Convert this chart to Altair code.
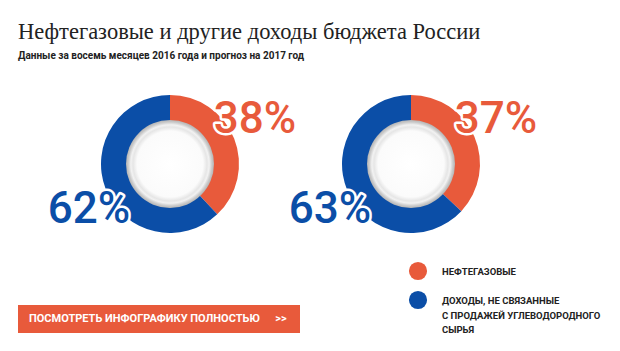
import math
import altair as alt
import pandas as pd

# ---- data ----
years = ["2016", "2017"]
categories = ["Нефтегазовые", "Доходы, не связанные с продажей углеводородного сырья"]
oil_gas = [38, 37]
other = [62, 63]
legend_labels = [["НЕФТЕГАЗОВЫЕ"],
                 ["ДОХОДЫ, НЕ СВЯЗАННЫЕ", "С ПРОДАЖЕЙ УГЛЕВОДОРОДНОГО", "СЫРЬЯ"]]
colors = ["#e85a3b", "#0b4ea7"]
title_text = "Нефтегазовые и другие доходы бюджета России"
subtitle_text = "Данные за восемь месяцев 2016 года и прогноз на 2017 год"
button_text = "ПОСМОТРЕТЬ ИНФОГРАФИКУ ПОЛНОСТЬЮ"
button_arrow = ">>"

COND = "Roboto, 'Liberation Sans', sans-serif"
SERIF = "'Liberation Serif', serif"

rows = []
for i, yr in enumerate(years):
    rows.append({"year": yr, "category": categories[0], "order": 0, "value": oil_gas[i]})
    rows.append({"year": yr, "category": categories[1], "order": 1, "value": other[i]})
df = pd.DataFrame(rows)

base = alt.Chart(df).transform_window(
    cum="sum(value)", groupby=["year"], sort=[alt.SortField("order", order="ascending")],
    frame=[None, 0]
).transform_calculate(start="datum.cum - datum.value", label="datum.value + '%'")

x_enc = alt.X("year:N", scale=alt.Scale(type="point", domain=years, range=[170, 411], padding=0), axis=None)
color_enc = alt.Color("category:N", scale=alt.Scale(domain=categories, range=colors), legend=None)
CY = 164

donut = base.mark_arc(outerRadius=69, innerRadius=43).encode(
    x=x_enc, y=alt.value(CY),
    theta=alt.Theta("start:Q", scale=alt.Scale(domain=[0, 100], range=[0, 2 * math.pi])),
    theta2="cum:Q",
    color=color_enc,
)

hole_fill = alt.RadialGradient(
    gradient="radial",
    stops=[
        alt.GradientStop(offset=0.0, color="#ffffff"),
        alt.GradientStop(offset=0.75, color="#fbfbfb"),
        alt.GradientStop(offset=0.84, color="#e6e6e6"),
        alt.GradientStop(offset=0.89, color="#f2f2f2"),
        alt.GradientStop(offset=0.95, color="#cbcbcb"),
        alt.GradientStop(offset=1.0, color="#b5b5b5"),
    ],
)
hole = base.transform_filter(alt.datum.order == 0).mark_arc(
    outerRadius=44, innerRadius=0, theta=0, theta2=2 * math.pi, fill=hole_fill
).encode(x=x_enc, y=alt.value(CY))

PCT_SIZE = 44

def pct_layers(order, dx, ypos):
    sub = base.transform_filter(alt.datum.order == order)
    outline = sub.mark_text(font=COND, fontSize=PCT_SIZE, fontWeight=500, dx=dx, align="center",
                            baseline="alphabetic", fill="white", stroke="white", strokeWidth=5,
                            strokeJoin="round").encode(
        x=x_enc, y=alt.value(ypos), text="label:N")
    fill = sub.mark_text(font=COND, fontSize=PCT_SIZE, fontWeight=500, dx=dx, align="center",
                         baseline="alphabetic").encode(
        x=x_enc, y=alt.value(ypos), text="label:N", color=color_enc)
    return outline + fill

orange_lbl = pct_layers(0, 85, 133)
blue_lbl = pct_layers(1, -81, 223)

# ---- title ----
title = alt.Chart(pd.DataFrame({"t": [title_text]})).mark_text(
    font=SERIF, fontSize=22.5, align="left", baseline="alphabetic", color="#222222"
).encode(x=alt.value(18), y=alt.value(39), text="t:N")
subtitle = alt.Chart(pd.DataFrame({"t": [subtitle_text]})).mark_text(
    font=COND, fontSize=10, fontWeight="bold", align="left", baseline="alphabetic", color="#222222"
).encode(x=alt.value(18), y=alt.value(59), text="t:N")

# ---- legend ----
leg_df = pd.DataFrame({"category": categories, "text": legend_labels})
leg_y = alt.Y("category:N", scale=alt.Scale(type="point", domain=categories, range=[271, 300], padding=0), axis=None)
leg_dots = alt.Chart(leg_df).mark_circle(size=330, opacity=1).encode(
    x=alt.value(418), y=leg_y, color=color_enc)
leg_text = alt.Chart(leg_df).mark_text(
    font=COND, fontSize=9.5, fontWeight="bold", align="left", baseline="alphabetic",
    dy=4, lineHeight=14.5, color="#222222"
).encode(x=alt.value(442), y=leg_y, text="text")

# ---- button ----
btn = alt.Chart(pd.DataFrame({"t": [button_text], "a": [button_arrow]}))
btn_rect = btn.mark_rect(color=colors[0]).encode(
    x=alt.value(18), x2=alt.value(300), y=alt.value(305), y2=alt.value(333))
btn_txt = btn.mark_text(font=COND, fontSize=11, fontWeight="bold", align="left", baseline="middle",
                        color="white").encode(x=alt.value(29), y=alt.value(319), text="t:N")
btn_arr = btn.mark_text(font=COND, fontSize=11, fontWeight="bold", align="center", baseline="middle",
                        color="white").encode(x=alt.value(281), y=alt.value(319), text="a:N")

chart = alt.layer(
    donut, hole, orange_lbl, blue_lbl, title, subtitle, leg_dots, leg_text, btn_rect, btn_txt, btn_arr
).properties(
    width=620, height=351, padding=0, autosize=alt.AutoSizeParams(type="none"), background="white"
).configure_view(stroke=None)

chart.save("out.html", embed_options={"renderer": "svg", "actions": False})
